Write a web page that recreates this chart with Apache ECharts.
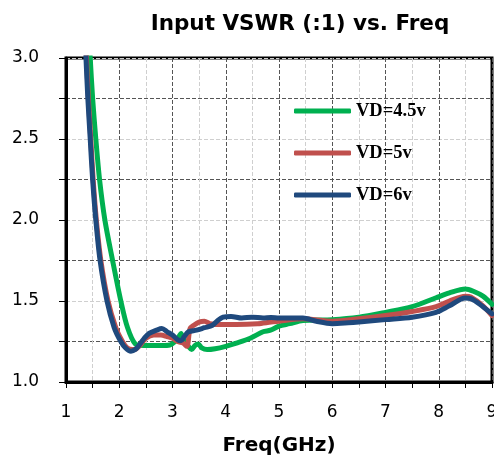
<!DOCTYPE html>
<html>
<head>
<meta charset="utf-8">
<script src="https://cdn.jsdelivr.net/npm/echarts@6/dist/echarts.min.js"></script>
<style>
  html, body { margin: 0; padding: 0; background: #fff; }
  #chart { width: 494px; height: 461px; }
</style>
</head>
<body>
<div id="chart"></div>
<script>
// VD=4.5v
const freq45 = [1.41, 1.455, 1.5, 1.56, 1.63, 1.73, 1.875, 2.03, 2.155, 2.3, 2.45, 2.6, 2.8, 2.95, 3.05, 3.12, 3.16, 3.22, 3.3, 3.36, 3.42, 3.48, 3.55, 3.65, 3.8, 4.0, 4.2, 4.46, 4.7, 4.84, 5.0, 5.2, 5.45, 6.0, 6.5, 7.0, 7.5, 7.95, 8.2, 8.5, 8.65, 8.83, 9.0]
const vswr45 = [3.3, 3.0, 2.75, 2.5, 2.25, 2.0, 1.75, 1.5, 1.336, 1.235, 1.225, 1.225, 1.225, 1.228, 1.25, 1.28, 1.3, 1.25, 1.22, 1.2, 1.225, 1.235, 1.21, 1.2, 1.205, 1.22, 1.24, 1.27, 1.31, 1.32, 1.345, 1.36, 1.38, 1.385, 1.4, 1.43, 1.465, 1.52, 1.55, 1.574, 1.56, 1.53, 1.48]
// VD=5v
const freq5 = [1.345, 1.385, 1.42, 1.465, 1.51, 1.57, 1.655, 1.79, 1.935, 2.06, 2.15, 2.25, 2.32, 2.4, 2.5, 2.65, 2.78, 2.9, 3.0, 3.1, 3.2, 3.27, 3.33, 3.4, 3.5, 3.6, 3.7, 3.9, 4.2, 4.6, 4.85, 5.0, 5.45, 6.0, 6.5, 7.0, 7.5, 7.95, 8.2, 8.5, 8.6, 8.83, 9.0]
const vswr5 = [3.3, 3.0, 2.75, 2.5, 2.25, 2.0, 1.75, 1.5, 1.336, 1.25, 1.21, 1.2, 1.205, 1.23, 1.27, 1.29, 1.29, 1.28, 1.27, 1.25, 1.24, 1.22, 1.33, 1.35, 1.37, 1.375, 1.36, 1.355, 1.355, 1.36, 1.37, 1.375, 1.39, 1.375, 1.39, 1.41, 1.435, 1.465, 1.5, 1.53, 1.525, 1.47, 1.41]
// VD=6v
const freq6 = [1.335, 1.375, 1.41, 1.455, 1.5, 1.56, 1.64, 1.77, 1.905, 2.03, 2.12, 2.22, 2.3, 2.38, 2.47, 2.56, 2.7, 2.8, 2.9, 3.0, 3.1, 3.16, 3.22, 3.3, 3.45, 3.6, 3.75, 3.85, 3.95, 4.1, 4.3, 4.5, 4.7, 4.85, 5.0, 5.45, 5.7, 6.0, 6.3, 6.5, 7.0, 7.5, 7.95, 8.2, 8.5, 8.6, 8.83, 9.0]
const vswr6 = [3.3, 3.0, 2.75, 2.5, 2.25, 2.0, 1.75, 1.5, 1.336, 1.25, 1.21, 1.19, 1.2, 1.23, 1.27, 1.3, 1.32, 1.33, 1.31, 1.29, 1.26, 1.255, 1.28, 1.31, 1.32, 1.335, 1.35, 1.38, 1.4, 1.405, 1.395, 1.4, 1.395, 1.398, 1.395, 1.395, 1.375, 1.36, 1.365, 1.37, 1.385, 1.4, 1.43, 1.47, 1.518, 1.515, 1.465, 1.42]

const seriesNames = ['VD=4.5v', 'VD=5v', 'VD=6v']
const seriesColors = ['#00b050', '#c0504d', '#1f497d']
const xTicks = ['1', '2', '3', '4', '5', '6', '7', '8', '9']

function pairs(xs, ys) {
  return xs.map((x, i) => [x, ys[i]])
}
const allData = [pairs(freq45, vswr45), pairs(freq5, vswr5), pairs(freq6, vswr6)]

const chart = echarts.init(document.getElementById('chart'), null, {renderer: 'canvas'})
chart.setOption({
  animation: false,
  title: {
    text: 'Input VSWR (:1) vs. Freq',
    left: 295,
    top: 8,
    textAlign: 'center',
    textStyle: {fontFamily: 'DejaVu Sans', fontWeight: 'bold', fontSize: 21.5, color: '#000'}
  },
  legend: {
    orient: 'vertical',
    left: 289,
    top: 96,
    icon: 'roundRect',
    itemWidth: 57,
    itemHeight: 5,
    itemGap: 22,
    data: seriesNames,
    textStyle: {fontFamily: 'Liberation Serif', fontWeight: 'bold', fontSize: 18.5, lineHeight: 20, color: '#000'}
  },
  grid: {left: 66, right: 2, top: 58, bottom: 79, outerBoundsMode: 'none', show: true, borderColor: '#000', borderWidth: 3},
  xAxis: {
    type: 'value',
    min: 1, max: 9, interval: 0.5,
    name: 'Freq(GHz)',
    nameLocation: 'middle',
    nameGap: 54,
    nameTextStyle: {fontFamily: 'DejaVu Sans', fontWeight: 'bold', fontSize: 20, color: '#000'},
    axisLine: {lineStyle: {color: '#000', width: 3}},
    axisTick: {show: true, length: 6, lineStyle: {color: '#000', width: 1}},
    axisLabel: {
      margin: 22,
      fontFamily: 'DejaVu Sans', fontSize: 17, color: '#000',
      formatter: v => Number.isInteger(v) ? xTicks[v - 1] : ''
    },
    splitLine: {show: true, lineStyle: {color: ['#555', '#cfcfcf'], type: 'dashed', width: 1}}
  },
  yAxis: {
    type: 'value',
    min: 1, max: 3, interval: 0.25,
    axisLine: {show: true, lineStyle: {color: '#000', width: 3}},
    axisTick: {show: true, length: 7, lineStyle: {color: '#000', width: 1}},
    axisLabel: {
      margin: 27,
      fontFamily: 'DejaVu Sans', fontSize: 17, color: '#000',
      formatter: v => Number.isInteger(v * 2) ? v.toFixed(1) : ''
    },
    splitLine: {show: true, lineStyle: {color: ['#cfcfcf', '#555'], type: 'dashed', width: 1}}
  },
  series: allData.map((d, i) => ({
    name: seriesNames[i],
    type: 'line',
    data: d,
    showSymbol: false,
    symbol: 'none',
    smooth: 0.3,
    clip: true,
    lineStyle: {color: seriesColors[i], width: 5, cap: 'round', join: 'round'},
    itemStyle: {color: seriesColors[i]}
  }))
})
</script>
</body>
</html>
